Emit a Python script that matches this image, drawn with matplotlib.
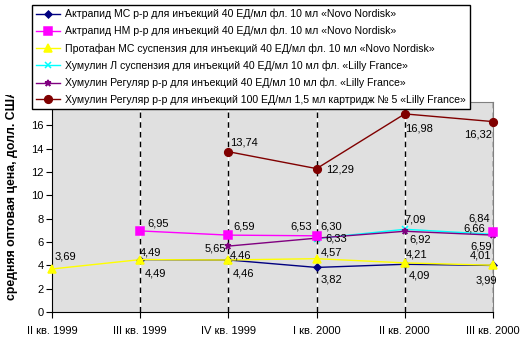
import numpy as np
import matplotlib
matplotlib.use("Agg")
import matplotlib.pyplot as plt
from matplotlib.patches import Rectangle

plt.rcParams['font.family'] = ['Liberation Sans', 'DejaVu Sans']

quarters = ['II кв. 1999', 'III кв. 1999', 'IV кв. 1999', 'I кв. 2000', 'II кв. 2000', 'III кв. 2000']
nan = np.nan

actrapid_ms = [nan, 4.49, 4.46, 3.82, 4.09, 3.99]
actrapid_nm = [nan, 6.95, 6.59, 6.53, nan, 6.84]
protafan_ms = [3.69, 4.49, 4.46, 4.57, 4.21, 4.01]
humulin_l = [nan, nan, nan, 6.30, 7.09, 6.66]
humulin_reg40 = [nan, nan, 5.65, 6.33, 6.92, 6.59]
humulin_reg100 = [nan, nan, 13.74, 12.29, 16.98, 16.32]

names = [
    'Актрапид МС р-р для инъекций 40 ЕД/мл фл. 10 мл «Novo Nordisk»',
    'Актрапид НМ р-р для инъекций 40 ЕД/мл фл. 10 мл «Novo Nordisk»',
    'Протафан МС суспензия для инъекций 40 ЕД/мл фл. 10 мл «Novo Nordisk»',
    'Хумулин Л суспензия для инъекций 40 ЕД/мл 10 мл фл. «Lilly France»',
    'Хумулин Регуляр р-р для инъекций 40 ЕД/мл 10 мл фл. «Lilly France»',
    'Хумулин Регуляр р-р для инъекций 100 ЕД/мл 1,5 мл картридж № 5 «Lilly France»',
]

# style: colour, marker, marker size
styles = [
    ('#000080', 'D', 3.5),
    ('#FF00FF', 's', 5.5),
    ('#FFFF00', '^', 5.5),
    ('#00FFFF', 'x', 4.5),
    ('#800080', '*', 4.5),
    ('#800000', 'o', 5.5),
]

# label offsets in points relative to the point (dx, dy of baseline, ha)
R, L = 'left', 'right'
offsets = [
    [None, (3, -12, R), (3, -12, R), (3, -10.5, R), (3, -10, R), (3, -13, L)],
    [None, (5, 3, R), (3.5, 4, R), (-3.5, 4.5, L), None, (-2, 7.5, L)],
    [(2, 6.5, R), (0, 2.8, R), (1, 1, R), (3, 2.2, R), (1, 3.6, R), (-1.5, 4.5, L)],
    [None, None, None, (3, 6.3, R), (0, 4.8, R), (-6, 1.9, L)],
    [None, None, (-2, -4, L), (6, -2.6, R), (3, -8, R), (-1, -10.5, L)],
    [None, None, (1, 4.5, R), (6.5, -2.9, R), (0, -12.5, R), (-1, -11.3, L)],
]

series = [actrapid_ms, actrapid_nm, protafan_ms, humulin_l, humulin_reg40, humulin_reg100]

fig = plt.figure(figsize=(5.22, 3.37), dpi=100)
ax = fig.add_axes([52 / 522, 1 - 312 / 337, 441 / 522, 210 / 337])
ax.set_facecolor('#E0E0E0')

x = np.arange(len(quarters))
for xi in x[1:]:
    ax.axvline(xi, color='white', lw=1, zorder=1)
    ax.axvline(xi, color='black', lw=1, ls=(0, (4, 3)), zorder=1)

handles = {}
order = [3, 4, 1, 0, 2, 5]
for i in order:
    c, m, ms = styles[i]
    ys = np.array(series[i], dtype=float)
    h, = ax.plot(x, ys, color=c, marker=m, ms=ms, lw=1, mew=1.1,
                 label=names[i], clip_on=False, zorder=3)
    handles[i] = h
    for xi, yi, off in zip(x, ys, offsets[i]):
        if off is None or np.isnan(yi):
            continue
        dx, dy, ha = off
        ax.annotate(f'{yi:.2f}'.replace('.', ','), (xi, yi), xytext=(dx, dy),
                    textcoords='offset points', ha=ha, va='baseline',
                    fontsize=8, zorder=5, annotation_clip=False)

ax.set_xlim(0, 5)
ax.set_ylim(0, 18)
ax.set_yticks(range(0, 17, 2))
ax.set_xticks(x)
ax.set_xticklabels(quarters, fontsize=8)
ax.tick_params(axis='y', labelsize=8, length=4, pad=2)
ax.tick_params(axis='x', length=4, pad=6)
for s in ['top', 'right']:
    ax.spines[s].set_color('#808080')

ylab = fig.text(12 / 522, 1 - 300 / 337, 'средняя оптовая цена, долл. США', rotation=90,
                ha='center', va='bottom', fontsize=8.8, fontweight='bold')
# the original label is cut off at the top
ylab.set_clip_path(Rectangle((0, 0), 1, 1 - 95 / 337, transform=fig.transFigure))

leg = fig.legend([handles[i] for i in range(6)], names, loc='upper left',
                 bbox_to_anchor=(32 / 522, 1 - 5 / 337), fontsize=7.6,
                 frameon=True, fancybox=False, edgecolor='black', framealpha=1,
                 handlelength=2.3, handletextpad=0.5, labelspacing=0.64,
                 borderpad=0.35, borderaxespad=0)
leg.get_frame().set_linewidth(1)

fig.savefig('out.png', dpi=100)
